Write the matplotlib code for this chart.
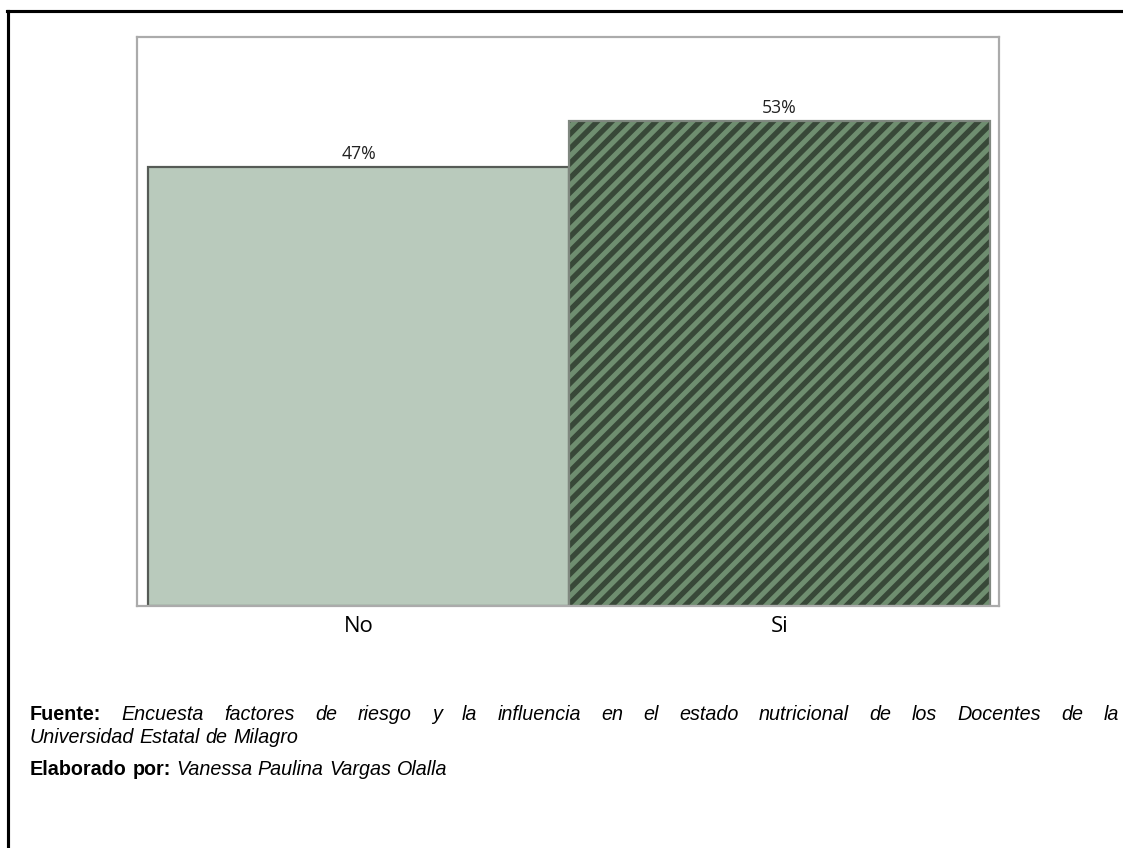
import matplotlib
matplotlib.use("Agg")
import matplotlib.pyplot as plt
from matplotlib.lines import Line2D

# datos de la encuesta
categorias = ["No", "Si"]
porcentajes = [47, 53]
etiquetas = ["47%", "53%"]

fuente_titulo = "Fuente:"
fuente_texto = ("Encuesta factores de riesgo y la influencia en el estado nutricional "
                "de los Docentes de la")
fuente_texto2 = "Universidad Estatal de Milagro"
autor_titulo = "Elaborado por:"
autor_texto = "Vanessa Paulina Vargas Olalla"

W, H, DPI = 1123, 848, 132
plt.rcParams["hatch.linewidth"] = 2.9

fig = plt.figure(figsize=(W / DPI, H / DPI), dpi=DPI)
fig.patch.set_facecolor("white")

# marco exterior (solo arriba e izquierda)
fig.add_artist(Line2D([7 / W, 1], [1 - 11 / H, 1 - 11 / H], color="black", lw=1.7,
                      transform=fig.transFigure, solid_capstyle="projecting"))
fig.add_artist(Line2D([8 / W, 8 / W], [0, 1 - 11 / H], color="black", lw=1.7,
                      transform=fig.transFigure))

ax_l, ax_r, ax_t, ax_b = 137, 999, 37, 606
ax = fig.add_axes([ax_l / W, 1 - ax_b / H, (ax_r - ax_l) / W, (ax_b - ax_t) / H])

piso = -10.3
x = [0, 1]
ax.bar(x[0], porcentajes[0] - piso, bottom=piso, width=1, color="#b9cabc",
       edgecolor="#565b56", linewidth=1.2)
# barra rayada: fondo claro con rayas oscuras y borde gris aparte
ax.bar(x[1], porcentajes[1] - piso, bottom=piso, width=1, color="#6f8e70",
       edgecolor="#384838", hatch="///", linewidth=0)
ax.bar(x[1], porcentajes[1] - piso, bottom=piso, width=1, fill=False,
       edgecolor="#7f877f", linewidth=1.2)

for xi, v, lab in zip(x, porcentajes, etiquetas):
    ax.annotate(lab, (xi, v), xytext=(0, 2), textcoords="offset points",
                ha="center", va="bottom", fontsize=9.6, family="Open Sans",
                color="#222222")

ax.set_xlim(-0.526, 1.521)
ax.set_ylim(piso, 63.9)
ax.set_yticks([])
ax.set_xticks(x, categorias, fontsize=12, family="Open Sans")
ax.tick_params(axis="x", length=0, pad=5.5)
for s in ax.spines.values():
    s.set_color("#ababab")
    s.set_linewidth(1.2)

# pie de figura con texto justificado
renderer = fig.canvas.get_renderer()
FS = 10.8


def ancho(texto, **kw):
    t = fig.text(0, 0, texto, fontsize=FS, family="Liberation Sans", **kw)
    w = t.get_window_extent(renderer).width
    t.remove()
    return w


def linea(tokens, y_px, x0=30, x1=None):
    # tokens: lista de (palabra, weight, style)
    anchos = [ancho(p, fontweight=wt, fontstyle=st) for p, wt, st in tokens]
    if x1 is None:
        hueco = ancho("a b") - ancho("ab")
    else:
        hueco = (x1 - x0 - sum(anchos)) / (len(tokens) - 1)
    xp = x0
    for (p, wt, st), w in zip(tokens, anchos):
        fig.text(xp / W, 1 - y_px / H, p, fontsize=FS, family="Liberation Sans",
                 fontweight=wt, fontstyle=st, va="baseline", ha="left")
        xp += w + hueco


tok1 = [(p, "bold", "normal") for p in fuente_titulo.split()] + \
       [(p, "normal", "italic") for p in fuente_texto.split()]
linea(tok1, 720, x1=1119)
linea([(p, "normal", "italic") for p in fuente_texto2.split()], 743)
tok3 = [(p, "bold", "normal") for p in autor_titulo.split()] + \
       [(p, "normal", "italic") for p in autor_texto.split()]
linea(tok3, 775)

fig.savefig("out.png", dpi=DPI)
